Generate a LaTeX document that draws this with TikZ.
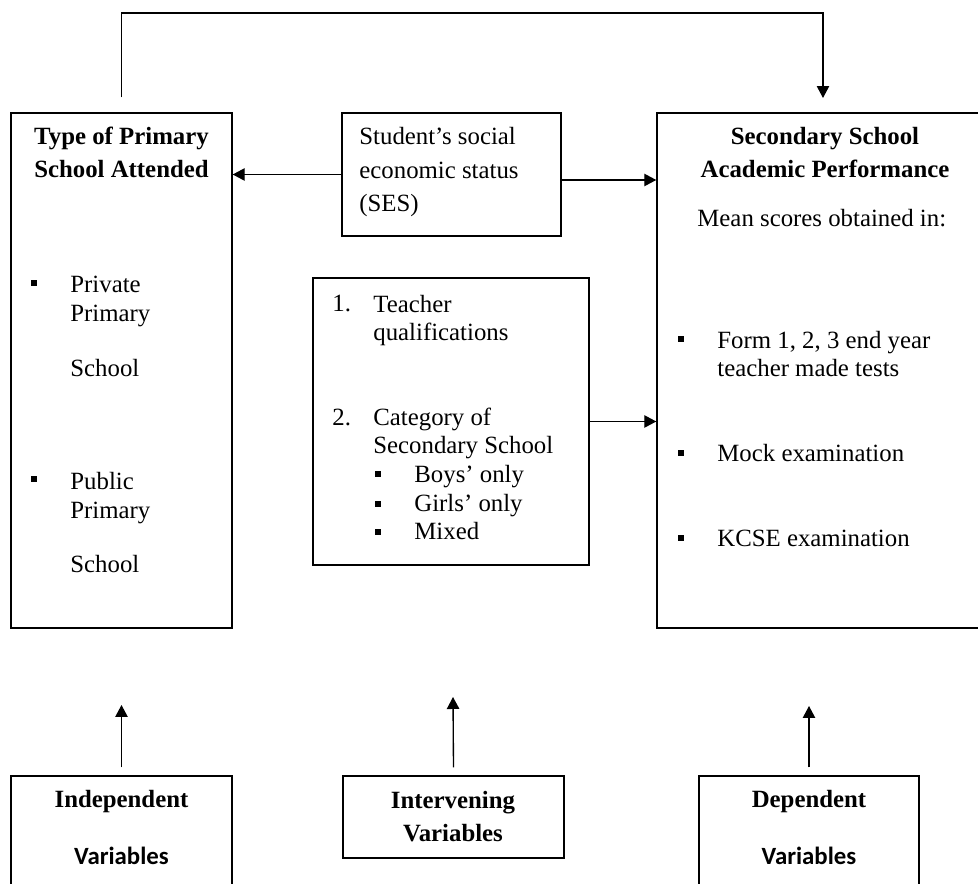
\documentclass[tikz,border=0pt]{standalone}
\usepackage{fontspec}
\setmainfont{Liberation Serif}
\newfontfamily\calfont{Carlito}
\usetikzlibrary{positioning, arrows.meta, fit, calc}

\begin{document}
\begin{tikzpicture}[
  x=0.017cm, y=-0.017cm,
  every node/.style={font=\fontsize{12}{14}\selectfont},
  box/.style={draw, line width=0.7pt, inner sep=0pt},
  txt/.style={anchor=base west, inner sep=0pt, align=left},
  head/.style={anchor=base, inner sep=0pt, align=center, font=\fontsize{12}{16}\selectfont\bfseries},
  var/.style={anchor=base, inner sep=0pt, font=\calfont\fontsize{12}{14}\selectfont\bfseries},
  sq/.style={fill=black, inner sep=0pt, minimum size=2.9pt},
  link/.style={-{Triangle[length=5.8pt, width=6pt]}, line width=0.65pt},
]
\useasboundingbox (0,0) rectangle (978,884);

% boxes
\node[box, fit={(11,113) (232,628)}] (prim) {};
\node[box, fit={(657,113) (984,628)}] (perf) {};
\node[box, fit={(342,113) (561,236)}] (ses) {};
\node[box, fit={(313,278) (589,565)}] (cat) {};
\node[box, fit={(11,776) (232,900)}] (indep) {};
\node[box, fit={(343,776) (564,858)}] (inter) {};
\node[box, fit={(699,776) (919,900)}] (dep) {};

% independent variable (multi-line nodes sit on their last line)
\node[head] (primT) at (121.5,178) {Type of Primary\\School Attended};
\node[sq] (b1) at (34,283) {};
\node[txt] (privT) at (70,377) {Private\\Primary\\[13pt]School};
\node[sq] (b2) at (34,479) {};
\node[txt] (pubT) at (70,573) {Public\\Primary\\[12.5pt]School};

% SES
\node[txt, font=\fontsize{12}{16.3}\selectfont] (sesT) at (359,212)
  {Student’s social\\economic status\\(SES)};

% intervening variables
\node[txt] (n1) at (332,312) {1.};
\node[txt] (q1) at (373,341) {Teacher\\qualifications};
\node[txt] (n2) at (332,426) {2.};
\node[txt] (q2) at (373,454) {Category of\\Secondary School};
\foreach \i/\y in {3/474, 4/504, 5/532}
  \node[sq] (b\i) at (378,\y) {};
\node[txt] (catT) at (414,540) {Boys’ only\\Girls’ only\\Mixed};

% dependent variable
\node[head] (perfT) at (825,178) {Secondary School\\Academic Performance};
\node[txt] (meanT) at (697,227) {Mean scores obtained in:};
\node[sq] (b6) at (681,339) {};
\node[txt] (formT) at (717,377) {Form 1, 2, 3 end year\\teacher made tests};
\node[sq] (b7) at (681,453) {};
\node[txt] (mockT) at (717,462) {Mock examination};
\node[sq] (b8) at (681,538) {};
\node[txt] (kcseT) at (717,547) {KCSE examination};

% legend boxes
\node[head] (indepT) at (121.5,808) {Independent};
\node[var] (indepV) at (121.5,865) {Variables};
\node[head, font=\fontsize{12}{16.4}\selectfont\bfseries] (interT) at (453,842) {Intervening\\Variables};
\node[head] (depT) at (809,808) {Dependent};
\node[var] (depV) at (809,865) {Variables};

% connectors
\coordinate (topL) at ($(prim.north)+(0,-15)$);
\coordinate (topY) at (0,13);
\coordinate (topR) at (823,98);
\draw[link] (topL) -- (topL |- topY) -| (topR);
\draw[link] (ses.west) -- (ses.west -| prim.east);
\draw[link] ($(ses.east)+(0,5.5)$) -- ($(ses.east -| perf.west)+(0,5.5)$);
\draw[link] (cat.east) -- (cat.east -| perf.west);

\coordinate (indepE) at (121.5,705);
\coordinate (interE) at (453,697);
\coordinate (depE) at (809,706);
\draw[link] ($(indep.north)+(0,-8)$) -- (indepE);
\draw[link] ($(inter.north)+(0,-8)$) -- (interE);
\draw[link] ($(dep.north)+(0,-8)$) -- (depE);
\end{tikzpicture}
\end{document}
